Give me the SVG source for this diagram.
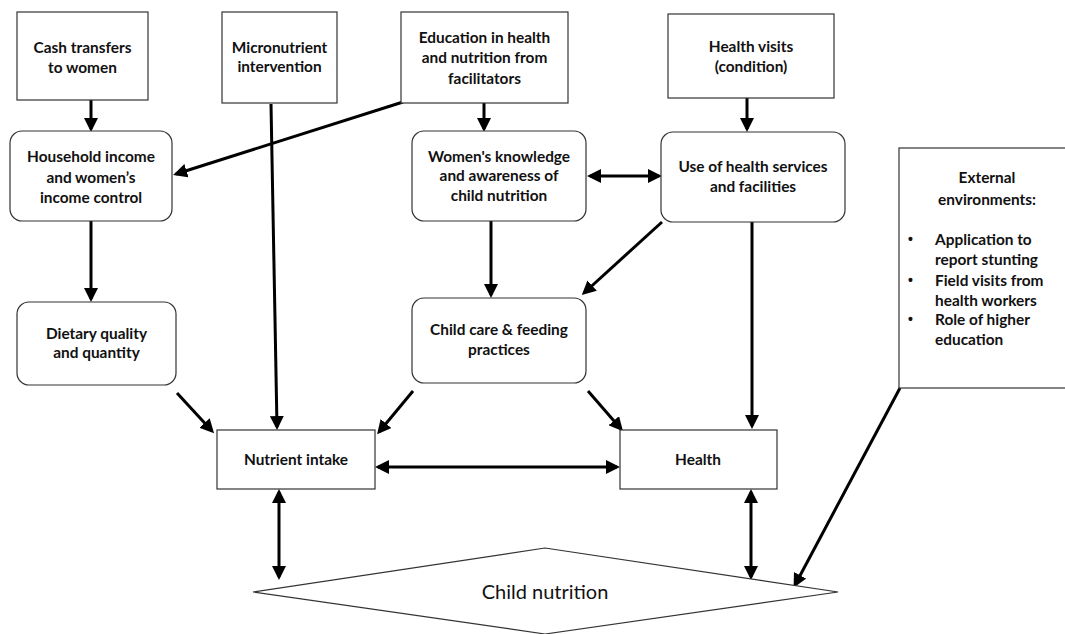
<svg xmlns="http://www.w3.org/2000/svg" width="1065" height="634" viewBox="0 0 1065 634">
<style>
.box{fill:#fff;stroke:#333;stroke-width:1.2}
.t{font-family:Lato,"Liberation Sans",sans-serif;font-weight:bold;font-size:15.4px;fill:#111;text-anchor:middle}
.tl{font-family:Lato,"Liberation Sans",sans-serif;font-weight:bold;font-size:15.4px;fill:#111}
.b{font-family:"Liberation Sans",sans-serif;font-weight:bold;font-size:14px;fill:#111}
.c{stroke:#000;stroke-width:3;fill:none}
.a{marker-end:url(#ah)}
.d{marker-start:url(#ah);marker-end:url(#ah)}
</style>
<defs>
<marker id="ah" markerUnits="userSpaceOnUse" markerWidth="14" markerHeight="14" refX="11" refY="7" orient="auto-start-reverse" viewBox="0 0 14 14">
<path d="M0,0 L14,7 L0,14 z" fill="#000"/>
</marker>
</defs>
<rect width="1065" height="634" fill="#fff"/>
<g id="connectors">
<line class="c a" x1="91" y1="100" x2="91" y2="129"/>
<line class="c a" x1="271" y1="104" x2="277" y2="427"/>
<line class="c a" x1="403" y1="102" x2="176" y2="174"/>
<line class="c a" x1="484" y1="103" x2="484" y2="129"/>
<line class="c d" x1="590" y1="176" x2="659" y2="176"/>
<line class="c a" x1="747" y1="98" x2="747" y2="129"/>
<line class="c a" x1="91" y1="221" x2="91" y2="299"/>
<line class="c a" x1="491" y1="221" x2="491" y2="295"/>
<line class="c a" x1="662" y1="222" x2="584" y2="293"/>
<line class="c a" x1="752" y1="222" x2="752" y2="426"/>
<line class="c a" x1="177" y1="393" x2="212" y2="431"/>
<line class="c a" x1="413" y1="391" x2="379" y2="432"/>
<line class="c a" x1="588" y1="391" x2="621" y2="429"/>
<line class="c d" x1="378" y1="467" x2="617" y2="467"/>
<line class="c d" x1="279" y1="492" x2="279" y2="577"/>
<line class="c d" x1="751" y1="492" x2="751" y2="577"/>
<line class="c a" x1="900" y1="388" x2="795" y2="585"/>
</g>
<g id="cash"><rect class="box" x="17" y="12" width="131" height="88"/>
<text class="t" x="82.5" y="53">Cash transfers</text><text class="t" x="82.5" y="73">to women</text></g>
<g id="micro"><rect class="box" x="222" y="12" width="115" height="91"/>
<text class="t" x="279.5" y="53">Micronutrient</text><text class="t" x="279.5" y="72">intervention</text></g>
<g id="education"><rect class="box" x="401" y="12" width="167" height="91"/>
<text class="t" x="484.5" y="43">Education in health</text><text class="t" x="484.5" y="63">and nutrition from</text><text class="t" x="484.5" y="84">facilitators</text></g>
<g id="visits"><rect class="box" x="668" y="14" width="166" height="84"/>
<text class="t" x="751" y="52">Health visits</text><text class="t" x="751" y="72">(condition)</text></g>
<g id="household"><rect class="box" x="10" y="131" width="162" height="90" rx="12"/>
<text class="t" x="91" y="162">Household income</text><text class="t" x="91" y="183">and women’s</text><text class="t" x="91" y="203">income control</text></g>
<g id="knowledge"><rect class="box" x="412" y="131" width="174" height="90" rx="12"/>
<text class="t" x="499" y="162">Women's knowledge</text><text class="t" x="499" y="181">and awareness of</text><text class="t" x="499" y="201">child nutrition</text></g>
<g id="services"><rect class="box" x="661" y="132" width="184" height="90" rx="12"/>
<text class="t" x="753" y="172">Use of health services</text><text class="t" x="753" y="192">and facilities</text></g>
<g id="dietary"><rect class="box" x="17" y="302" width="159" height="83" rx="12"/>
<text class="t" x="96.5" y="339">Dietary quality</text><text class="t" x="96.5" y="358">and quantity</text></g>
<g id="childcare"><rect class="box" x="412" y="298" width="174" height="85" rx="12"/>
<text class="t" x="499" y="335">Child care &amp; feeding</text><text class="t" x="499" y="355">practices</text></g>
<g id="external"><rect class="box" x="899" y="148" width="170" height="240"/>
<text class="t" x="987" y="183">External</text><text class="t" x="987" y="205">environments:</text>
<text class="b" x="908" y="244">•</text><text class="tl" x="935" y="245">Application to</text>
<text class="tl" x="935" y="265">report stunting</text>
<text class="b" x="908" y="285">•</text><text class="tl" x="935" y="286">Field visits from</text>
<text class="tl" x="935" y="306">health workers</text>
<text class="b" x="908" y="324">•</text><text class="tl" x="935" y="325">Role of higher</text>
<text class="tl" x="935" y="345">education</text></g>
<g id="nutrient"><rect class="box" x="217" y="430" width="158" height="59"/>
<text class="t" x="296" y="465">Nutrient intake</text></g>
<g id="health"><rect class="box" x="620" y="430" width="157" height="59"/>
<text class="t" x="698" y="465">Health</text></g>
<g id="childnutrition"><polygon class="box" points="545,548 838,592 545,634 253,592"/>
<text class="t" x="545" y="599" style="font-size:20px;font-weight:normal">Child nutrition</text></g>
</svg>
